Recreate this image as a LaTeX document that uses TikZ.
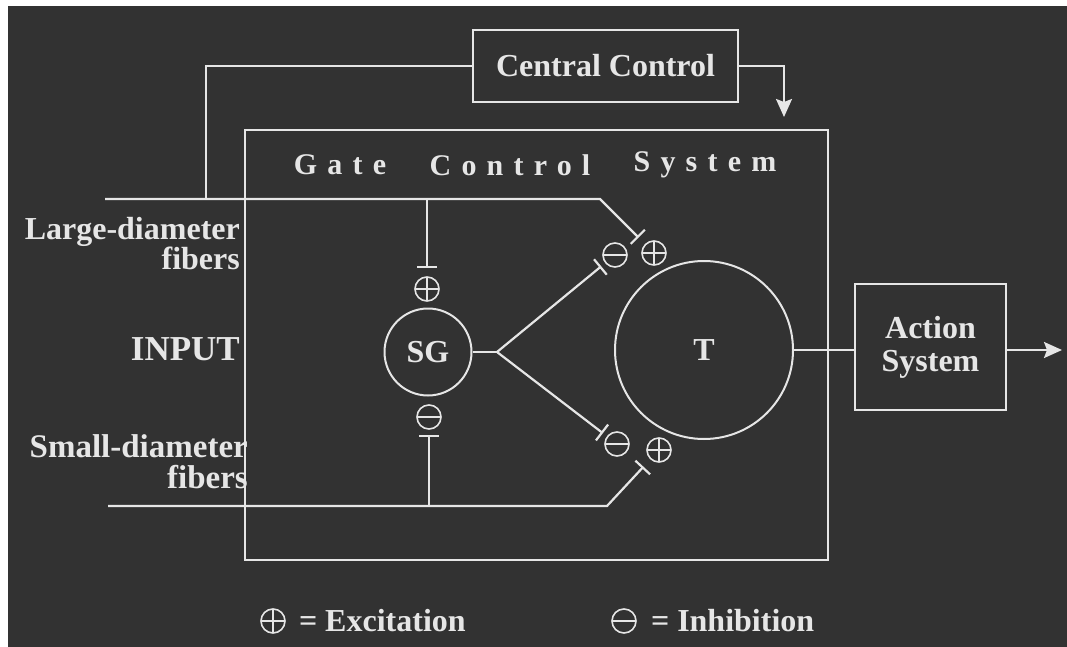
\documentclass[tikz,border=0pt]{standalone}
\usepackage{fontspec}
\setmainfont{Liberation Serif}
\usetikzlibrary{arrows.meta,positioning}
\definecolor{bgcol}{RGB}{50,50,50}
\definecolor{ink}{RGB}{230,230,230}

\begin{document}
\begin{tikzpicture}[x=1pt,y=-1pt,
    wire/.style={draw=ink,line width=2.2pt},
    inhib/.style={wire,-{Bar[width=20pt]}},
    arr/.style={wire,-{Stealth[length=18pt,width=16pt,inset=3pt]}},
    ctlbox/.style={draw=ink,line width=2.2pt,rectangle,inner sep=0pt},
    cell/.style={draw=ink,line width=2pt,circle,inner sep=0pt},
    lbl/.style={text=ink,font=\fontsize{32}{30}\selectfont\bfseries,inner sep=0pt},
    spaced/.style={lbl,font=\fontsize{30}{30}\selectfont\bfseries\addfontfeature{LetterSpace=34}},
    sign/.style={draw=ink,line width=1.6pt,circle,inner sep=0pt,minimum size=24pt},
    excite/.style={sign,path picture={\draw[ink,line width=1.6pt]
        (path picture bounding box.north) -- (path picture bounding box.south)
        (path picture bounding box.west) -- (path picture bounding box.east);}},
    inhibit/.style={sign,path picture={\draw[ink,line width=1.6pt]
        (path picture bounding box.west) -- (path picture bounding box.east);}}]
    \useasboundingbox (0,0) rectangle (1067,647);
    \fill[white] (0,0) rectangle (1067,647);
    \fill[bgcol] (8,6) rectangle (1067,647);

    % boxes and cells
    \node[ctlbox,lbl,minimum width=265pt,minimum height=72pt] (central) at (605.5,66) {Central Control};
    \node[ctlbox,minimum width=583pt,minimum height=430pt] (gate) at (536.5,345) {};
    \node[ctlbox,lbl,align=center,font=\fontsize{32}{33}\selectfont\bfseries,
        minimum width=151pt,minimum height=126pt] (action) at (930.5,347) {Action\\System};
    \node[cell,lbl,minimum size=87pt] (sg) at (428,352) {SG};
    \node[cell,lbl,minimum size=178pt] (t) at (704,350) {T};

    % title of the gate box
    \node[spaced] at (340,165) {Gate};
    \node[spaced] at (510,165) {Control};
    \node[spaced] at (705,165) {System};

    % signs
    \node[excite] (sgplus) at (427,289) {};
    \node[inhibit] (sgminus) at (429,417) {};
    \node[inhibit] (tminusa) at (615,255) {};
    \node[excite] (tplusa) at (654,253) {};
    \node[inhibit] (tminusb) at (617,444) {};
    \node[excite] (tplusb) at (659,450) {};

    % input labels
    \node[lbl,align=right,anchor=east] (large) at (240,244) {Large-diameter\\fibers};
    \node[lbl,anchor=east,font=\fontsize{35}{35}\selectfont\bfseries] (input) at (240,349) {INPUT};
    \node[lbl,align=right,anchor=east,font=\fontsize{33}{31}\selectfont\bfseries] (small) at (248,462) {Small-diameter\\fibers};

    % fibers
    \coordinate (lgin) at (105,199);
    \coordinate (lgbend) at (600,199);
    \coordinate (lgtap) at (427,199);
    \coordinate (fbtap) at (206,199);
    \coordinate (smin) at (108,506);
    \coordinate (smbend) at (607,506);
    \coordinate (smtap) at (429,506);
    \coordinate (fork) at (497,352);
    \coordinate (drop) at (784,117);
    \coordinate (out) at (1062,350);
    \draw[inhib,shorten >=9pt] (lgin) -- (lgbend) -- (tplusa);
    \draw[inhib,shorten >=8pt] (lgtap) -- (sgplus);
    \draw[inhib,shorten >=10pt] (smin) -- (smbend) -- (tplusb);
    \draw[inhib,shorten >=5pt] (smtap) -- (sgminus);
    \draw[wire] (sg.east) -- (fork);
    \draw[inhib,shorten >=5pt] (fork) -- (tminusa);
    \draw[inhib,shorten >=5pt] (fork) -- (tminusb);

    % control loop and output
    \draw[wire] (fbtap) |- (central.west);
    \draw[arr] (central.east) -| (drop);
    \draw[wire] (t.east) -- (t.east -| action.west);
    \draw[arr] (t.east -| action.east) -- (out);

    % key
    \node[excite] (keyplus) at (273,621) {};
    \node[lbl,right=13pt of keyplus] (keyexc) {= Excitation};
    \node[inhibit] (keyminus) at (624,621) {};
    \node[lbl,right=14pt of keyminus] (keyinh) {= Inhibition};
\end{tikzpicture}
\end{document}
